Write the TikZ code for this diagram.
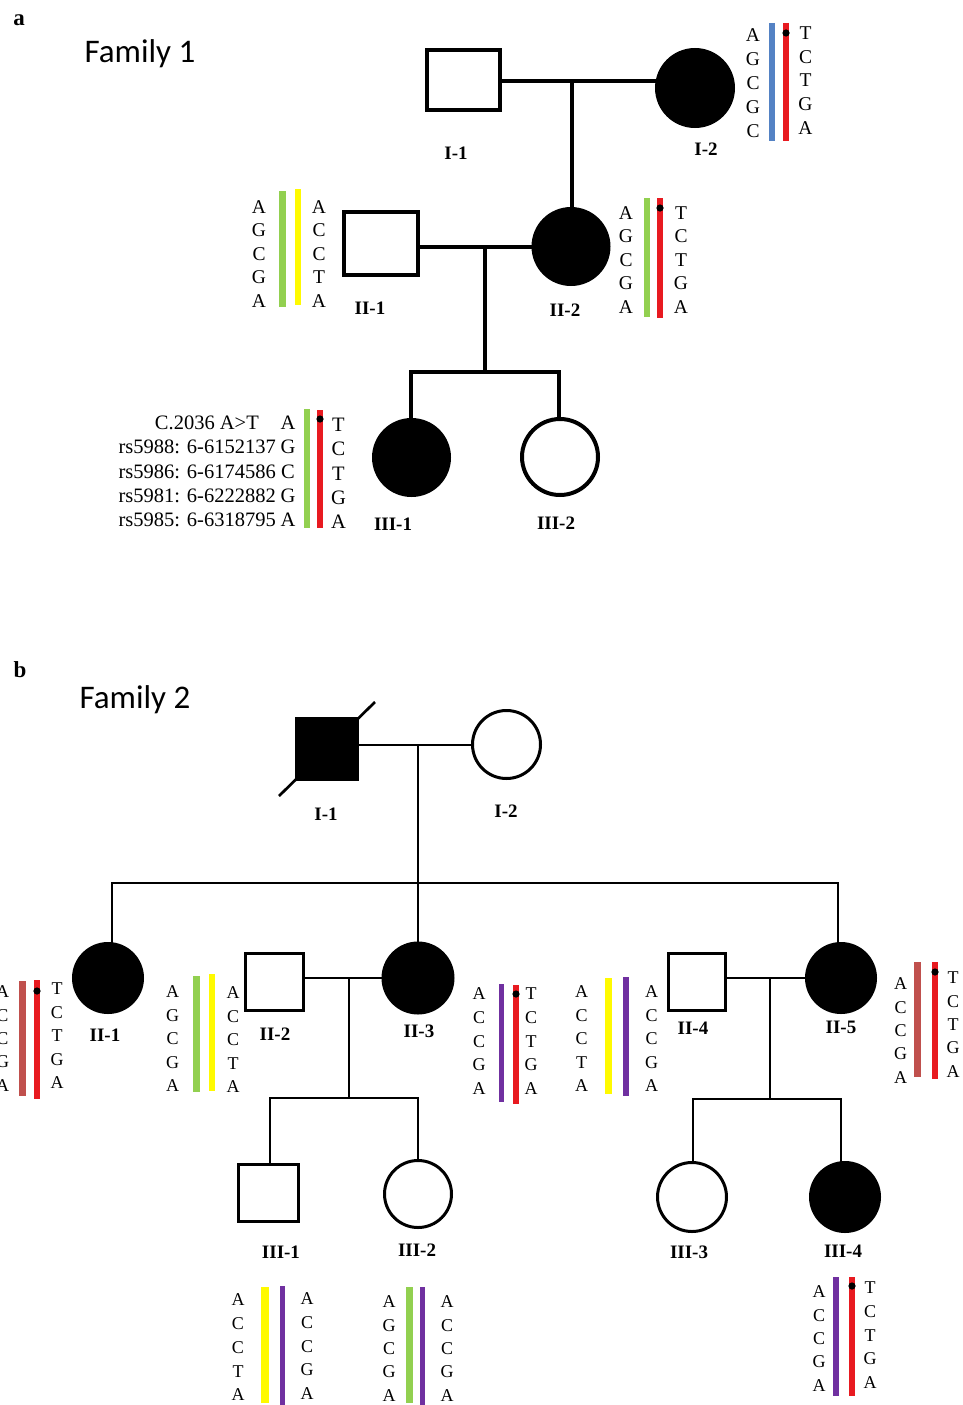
\documentclass[tikz,border=0pt]{standalone}
\usepackage{fontspec}
\setmainfont{Liberation Serif}
\newfontfamily\calibri{Carlito}
\usetikzlibrary{calc}
\pgfdeclarelayer{bg}
\pgfsetlayers{bg,main}

\definecolor{hapblue}{RGB}{84,130,196}
\definecolor{hapred}{RGB}{232,26,32}
\definecolor{hapgreen}{RGB}{146,208,80}
\definecolor{hapyellow}{RGB}{255,250,0}
\definecolor{hapbrown}{RGB}{192,80,77}
\definecolor{happurple}{RGB}{112,48,160}

\tikzset{
  male/.style={draw, rectangle, inner sep=0pt},
  female/.style={draw, circle, inner sep=0pt},
  affected/.style={fill=black},
  one/.style={line width=4pt},
  two/.style={line width=3pt},
  link1/.style={line width=3.5pt},
  link2/.style={line width=2.7pt},
  allele/.style={inner sep=0pt, font=\fontsize{19.5}{20}\selectfont},
  lab/.style={inner sep=0pt, font=\bfseries\fontsize{19}{19}\selectfont},
  snp/.style={inner sep=0pt, anchor=east, font=\fontsize{20.5}{21}\selectfont},
  title/.style={inner sep=0pt, anchor=base, font=\calibri\fontsize{33}{33}\selectfont},
  panel/.style={inner sep=0pt, anchor=base, font=\bfseries\fontsize{23}{23}\selectfont},
}

% a column of alleles: name, x, first y, step, list
\newcommand\alleles[5]{%
  \foreach \al [count=\i from 0] in {#5}
    \node[allele] (#1-\i) at (#2, {#3+\i*#4}) {\al};}
% a haplotype bar: colour, width, x, top, bottom
\newcommand\strand[5]{\draw[#1, line width=#2] (#3,#4) -- (#3,#5);}
% mutation mark on a bar
\newcommand\mutdot[2]{\fill (#1,#2) circle (3.6pt);}

\begin{document}
\begin{tikzpicture}[x=1pt, y=-1pt]
\useasboundingbox (0,0) rectangle (963,1405);
\clip (0,0) rectangle (963,1405);
\begin{pgfonlayer}{bg}
\fill[white] (0,0) rectangle (963,1405);
\end{pgfonlayer}

% ---------------- Family 1 ----------------
\node[panel] (pa) at (19,26) {a};
\node[title] (t1) at (140,63) {Family 1};

\node[male, one, minimum width=73pt, minimum height=60pt] (f1I1) at (463.5,80) {};
\node[female, one, affected, minimum size=76pt] (f1I2) at (695,88) {};
\node[male, one, minimum width=74pt, minimum height=63pt] (f1II1) at (381,243) {};
\node[female, one, affected, minimum size=75pt] (f1II2) at (571,246.5) {};
\node[female, one, affected, minimum size=75pt] (f1III1) at (411.5,457.5) {};
\node[female, one, minimum size=76pt] (f1III2) at (560,457) {};

\coordinate (f1m1) at (572,81);
\coordinate (f1m2) at (485,247);
\coordinate (f1s1) at (485,372);
\coordinate (f1s1a) at (411,372);
\coordinate (f1s1b) at (559,372);

\begin{pgfonlayer}{bg}
\draw[link1] (f1I1.east |- f1m1) -- (f1m1 -| f1I2.center);
\draw[link1] (f1m1) -- (f1m1 |- f1II2.center);
\draw[link1] (f1II1.east |- f1m2) -- (f1m2 -| f1II2.center);
\draw[link1] (f1m2) -- (f1s1);
\draw[link1] (f1s1a |- f1III1.center) -- (f1s1a) -- (f1s1b) -- (f1s1b |- f1III2.north);
\end{pgfonlayer}

\node[lab] (l1I1) at (456,153) {I-1};
\node[lab] (l1I2) at (706,149) {I-2};
\node[lab] (l1II1) at (370,308) {II-1};
\node[lab] (l1II2) at (565,310) {II-2};
\node[lab] (l1III1) at (393,524) {III-1};
\node[lab] (l1III2) at (556,523) {III-2};

% I-2
\strand{hapblue}{6pt}{771.5}{23}{141}
\strand{hapred}{6pt}{786}{23}{141}
\mutdot{786}{33}
\alleles{f1I2a}{753}{35.5}{23.8}{A,G,C,G,C}
\alleles{f1I2b}{805.5}{33}{23.8}{T,C,T,G,A}
% II-1
\strand{hapgreen}{7pt}{282}{191}{306.5}
\strand{hapyellow}{6pt}{298}{189}{305}
\alleles{f1II1a}{259}{207}{23.5}{A,G,C,G,A}
\alleles{f1II1b}{319}{207}{23.5}{A,C,C,T,A}
% II-2
\strand{hapgreen}{6pt}{647}{198}{317}
\strand{hapred}{6pt}{660}{198}{318}
\mutdot{660}{208}
\alleles{f1II2a}{626}{213}{23.5}{A,G,C,G,A}
\alleles{f1II2b}{681}{213}{23.5}{T,C,T,G,A}
% III-1 with marker names
\begin{scope}[allele/.style={inner sep=0pt, font=\fontsize{20.5}{21}\selectfont}]
\strand{hapgreen}{5.5pt}{307}{409}{528}
\strand{hapred}{5.5pt}{320}{410}{528}
\mutdot{320}{419}
\alleles{f1III1a}{288}{423}{24.25}{A,G,C,G,A}
\alleles{f1III1b}{338.5}{425}{24.2}{T,C,T,G,A}
\node[snp] (snp0) at (259,423) {C.2036 A>T};
\node[snp] (snp1) at (276,447.25) {rs5988: 6-6152137};
\node[snp] (snp2) at (276,471.5) {rs5986: 6-6174586};
\node[snp] (snp3) at (276,495.75) {rs5981: 6-6222882};
\node[snp] (snp4) at (276,520) {rs5985: 6-6318795};
\end{scope}

% ---------------- Family 2 ----------------
\node[panel] (pb) at (20,677) {b};
\node[title] (t2) at (135,708) {Family 2};

\node[male, two, affected, minimum size=61pt] (f2I1) at (327,748.5) {};
\node[female, two, minimum size=68pt] (f2I2) at (506.5,744.5) {};
\node[female, two, affected, minimum size=69pt] (f2II1) at (108,978) {};
\node[male, two, minimum width=58pt, minimum height=57pt] (f2II2) at (274.5,982) {};
\node[female, two, affected, minimum size=70pt] (f2II3) at (418,978) {};
\node[male, two, minimum width=57pt, minimum height=57pt] (f2II4) at (697,982) {};
\node[female, two, affected, minimum size=69pt] (f2II5) at (841,978) {};
\node[male, two, minimum width=60pt, minimum height=57pt] (f2III1) at (268.5,1193) {};
\node[female, two, minimum size=67pt] (f2III2) at (418,1194) {};
\node[female, two, minimum size=69pt] (f2III3) at (692,1197) {};
\node[female, two, affected, minimum size=69pt] (f2III4) at (845,1197) {};

% deceased mark
\draw[link2] ($(f2I1.center)+(-48,47.5)$) -- ($(f2I1.center)+(48,-46.5)$);

\coordinate (f2m1) at (418,745);
\coordinate (f2s1) at (418,883);
\coordinate (f2s1a) at (112,883);
\coordinate (f2s1b) at (838,883);
\coordinate (f2m2) at (349,978);
\coordinate (f2s2) at (349,1098);
\coordinate (f2s2a) at (270,1098);
\coordinate (f2s2b) at (418,1098);
\coordinate (f2m3) at (770,978);
\coordinate (f2s3) at (770,1099);
\coordinate (f2s3a) at (693,1099);
\coordinate (f2s3b) at (841,1099);

\begin{pgfonlayer}{bg}
\draw[link2] (f2I1.east |- f2m1) -- (f2m1 -| f2I2.west);
\draw[link2] (f2m1) -- (f2s1);
\draw[link2] (f2s1a |- f2II1.center) -- (f2s1a) -- (f2s1b) -- (f2s1b |- f2II5.center);
\draw[link2] (f2s1) -- (f2II3.center);
\draw[link2] (f2II2.east |- f2m2) -- (f2m2 -| f2II3.center);
\draw[link2] (f2m2) -- (f2s2);
\draw[link2] (f2s2a |- f2III1.north) -- (f2s2a) -- (f2s2b) -- (f2s2b |- f2III2.north);
\draw[link2] (f2II4.east |- f2m3) -- (f2m3 -| f2II5.center);
\draw[link2] (f2m3) -- (f2s3);
\draw[link2] (f2s3a |- f2III3.north) -- (f2s3a) -- (f2s3b) -- (f2s3b |- f2III4.center);
\end{pgfonlayer}

\node[lab] (l2I1) at (326,814) {I-1};
\node[lab] (l2I2) at (506,811) {I-2};
\node[lab] (l2II1) at (105,1035) {II-1};
\node[lab] (l2II2) at (275,1034) {II-2};
\node[lab] (l2II3) at (419,1031) {II-3};
\node[lab] (l2II4) at (693,1028) {II-4};
\node[lab] (l2II5) at (841,1027) {II-5};
\node[lab] (l2III1) at (281,1252) {III-1};
\node[lab] (l2III2) at (417,1250) {III-2};
\node[lab] (l2III3) at (689,1252) {III-3};
\node[lab] (l2III4) at (843,1251) {III-4};

\begin{scope}[allele/.style={inner sep=0pt, font=\fontsize{18}{18}\selectfont}]
% II-1
\strand{hapbrown}{7pt}{22.7}{981}{1096}
\strand{hapred}{6pt}{36.7}{980}{1099}
\mutdot{37}{991}
\alleles{f2II1a}{2.5}{992}{23.3}{A,C,C,G,A}
\alleles{f2II1b}{57}{989}{23.5}{T,C,T,G,A}
% II-2
\strand{hapgreen}{7pt}{196.7}{976}{1092}
\strand{hapyellow}{6.5pt}{212}{974}{1091}
\alleles{f2II2a}{172.7}{992}{23.5}{A,G,C,G,A}
\alleles{f2II2b}{233}{993}{23.5}{A,C,C,T,A}
% II-3
\strand{happurple}{5pt}{501.7}{984}{1102}
\strand{hapred}{6pt}{516}{985}{1104}
\mutdot{516}{994}
\alleles{f2II3a}{479}{994}{23.7}{A,C,C,G,A}
\alleles{f2II3b}{531}{994}{23.7}{T,C,T,G,A}
% II-4
\strand{hapyellow}{7pt}{608}{978}{1094}
\strand{happurple}{6pt}{626}{977}{1096}
\alleles{f2II4a}{581.7}{992}{23.5}{A,C,C,T,A}
\alleles{f2II4b}{651.7}{992}{23.5}{A,C,C,G,A}
% II-5
\strand{hapbrown}{7pt}{917}{962}{1077}
\strand{hapred}{6pt}{935}{962}{1079}
\mutdot{935}{972}
\alleles{f2II5a}{900.7}{984}{23.3}{A,C,C,G,A}
\alleles{f2II5b}{953}{978}{23.3}{T,C,T,G,A}
% III-1
\strand{hapyellow}{8pt}{265}{1287}{1403}
\strand{happurple}{5pt}{282}{1286}{1405}
\alleles{f2III1a}{238}{1300}{23.7}{A,C,C,T,A}
\alleles{f2III1b}{307}{1299}{23.7}{A,C,C,G,A}
% III-2
\strand{hapgreen}{7pt}{409}{1287}{1403}
\strand{happurple}{5pt}{422}{1287}{1405}
\alleles{f2III2a}{389}{1302}{23.3}{A,G,C,G,A}
\alleles{f2III2b}{447}{1302}{23.3}{A,C,C,G,A}
% III-4
\strand{happurple}{6pt}{836}{1277}{1396}
\strand{hapred}{6pt}{851.7}{1277}{1396}
\mutdot{852}{1286}
\alleles{f2III4a}{819}{1292}{23.3}{A,C,C,G,A}
\alleles{f2III4b}{870}{1288}{23.7}{T,C,T,G,A}
\end{scope}
\end{tikzpicture}
\end{document}
